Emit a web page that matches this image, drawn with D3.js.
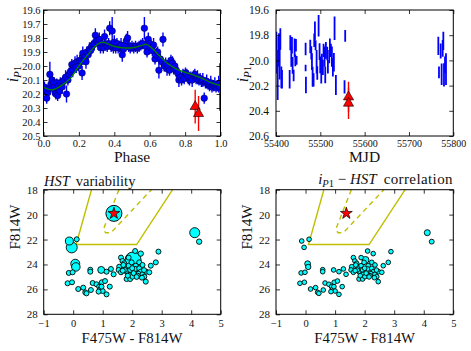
<!DOCTYPE html>
<html><head><meta charset="utf-8">
<script src="https://cdn.jsdelivr.net/npm/d3@7"></script>
<style>body{margin:0;background:#fff} text{font-family:"Liberation Serif","Times New Roman",serif;fill:#111}</style>
</head><body><svg id="c" width="471" height="351"></svg>
<script>
// ---- Light curve (phase-folded) ----
const phase = [0.005,0.012,0.018,0.025,0.03,0.036,0.042,0.048,0.052,0.058,0.064,0.07,0.075,0.08,0.085,0.09,0.095,0.105,0.11,0.118,0.125,0.13,0.138,0.145,0.152,0.16,0.165,0.172,0.178,0.185,0.19,0.198,0.205,0.212,0.218,0.222,0.228,0.235,0.24,0.245,0.252,0.26,0.266,0.272,0.28,0.287,0.293,0.3,0.308,0.315,0.322,0.33,0.338,0.345,0.352,0.36,0.368,0.374,0.382,0.388,0.395,0.4,0.408,0.415,0.422,0.43,0.438,0.445,0.452,0.46,0.468,0.475,0.482,0.49,0.5,0.51,0.52,0.53,0.54,0.55,0.56,0.57,0.578,0.585,0.592,0.6,0.607,0.615,0.622,0.63,0.638,0.645,0.652,0.66,0.668,0.675,0.682,0.69,0.698,0.705,0.712,0.72,0.728,0.735,0.742,0.75,0.758,0.765,0.772,0.78,0.788,0.795,0.802,0.81,0.818,0.825,0.832,0.84,0.848,0.855,0.862,0.87,0.878,0.885,0.892,0.9,0.908,0.915,0.922,0.93,0.938,0.945,0.952,0.96,0.968,0.975,0.982,0.99,0.997];
const magP = [20.15,20.18,20.23,20.19,20.16,20.06,20.13,20.10,20.16,20.12,20.15,20.20,20.12,20.21,20.14,20.18,20.12,20.15,20.11,20.10,20.08,20.20,20.10,20.06,20.04,19.99,20.03,20.00,19.98,20.01,19.97,20.00,19.96,19.97,20.05,19.91,19.95,19.93,19.97,19.90,19.92,19.88,19.89,19.86,19.85,19.84,19.78,19.82,19.83,19.81,19.87,19.84,19.87,19.79,19.85,19.86,19.84,19.73,19.86,19.75,19.87,19.83,19.87,19.84,19.87,19.86,19.85,19.92,19.88,19.85,19.82,19.80,19.86,19.87,19.86,19.87,19.86,19.87,19.86,19.85,19.84,19.73,19.86,19.90,19.81,19.84,19.87,19.89,19.85,19.95,19.92,19.90,20.03,19.95,19.97,19.81,20.00,19.98,20.02,20.00,20.03,19.96,19.98,20.02,20.00,20.03,20.05,20.10,20.08,20.10,20.07,20.09,20.05,20.06,20.08,20.10,20.08,20.10,20.07,20.06,20.09,20.08,20.10,20.09,20.11,20.10,20.23,20.12,20.11,20.13,20.14,20.12,20.15,20.14,20.13,20.15,20.14,20.13,20.15];
const errP = [0.04,0.05,0.04,0.04,0.03,0.09,0.05,0.04,0.05,0.04,0.05,0.04,0.03,0.04,0.04,0.05,0.04,0.05,0.04,0.04,0.05,0.06,0.04,0.05,0.04,0.04,0.05,0.04,0.05,0.04,0.05,0.04,0.04,0.05,0.05,0.05,0.04,0.04,0.05,0.04,0.04,0.05,0.04,0.04,0.04,0.05,0.05,0.04,0.04,0.05,0.04,0.04,0.04,0.05,0.04,0.04,0.04,0.05,0.04,0.10,0.04,0.05,0.04,0.04,0.04,0.04,0.05,0.05,0.04,0.04,0.05,0.05,0.04,0.04,0.04,0.04,0.04,0.04,0.04,0.04,0.04,0.08,0.04,0.04,0.05,0.04,0.04,0.04,0.05,0.04,0.05,0.04,0.06,0.04,0.04,0.05,0.04,0.04,0.05,0.04,0.04,0.04,0.05,0.04,0.04,0.05,0.04,0.05,0.04,0.04,0.05,0.04,0.04,0.04,0.05,0.04,0.04,0.05,0.04,0.04,0.04,0.05,0.04,0.04,0.04,0.05,0.04,0.04,0.05,0.04,0.04,0.05,0.04,0.04,0.05,0.04,0.04,0.06,0.17];
const modelPhase = [0,0.05,0.1,0.15,0.2,0.25,0.3,0.33,0.4,0.45,0.5,0.55,0.58,0.62,0.65,0.7,0.75,0.8,0.85,0.9,0.95,1.0];
const modelMag = [20.152,20.17,20.14,20.09,20.0,19.92,19.85,19.83,19.86,19.87,19.87,19.855,19.845,19.88,19.92,19.98,20.02,20.045,20.065,20.09,20.12,20.14];
const redPhase = [0.857,0.876];
const redMag = [20.29,20.34];
const redErr = [0.12,0.125];
const phaseTicks = [0,0.2,0.4,0.6,0.8,1.0];
const magTicks1 = [19.6,19.7,19.8,19.9,20.0,20.1,20.2,20.3,20.4,20.5];

// ---- Light curve (MJD) ----
const mjd = [55400.8,55402.3,55403.8,55405.3,55406.8,55408.3,55409.8,55412.0,55413.5,55430.8,55432.3,55434.5,55436.0,55437.5,55439.8,55442.0,55443.5,55445.0,55446.5,55466.8,55466.8,55467.5,55477.3,55479.6,55481.1,55482.6,55484.8,55486.3,55487.8,55489.3,55491.6,55493.1,55496.1,55498.3,55499.8,55502.1,55503.6,55505.8,55507.3,55509.6,55511.1,55512.6,55515.6,55517.1,55520.1,55521.6,55523.8,55526.1,55528.3,55530.6,55532.1,55535.1,55556.1,55554.6,55766.2,55767.7,55771.5,55773.7,55776.0,55777.5,55779.0,55781.3,55783.5];
const magM = [19.845,20.01,20.155,19.93,19.89,20.02,19.83,20.135,20.15,20.15,19.86,19.97,19.88,20.04,20.12,19.90,20.0,19.88,20.0,19.91,20.06,20.195,19.89,19.94,20.01,20.13,20.155,19.84,19.765,19.88,20.01,20.10,19.725,19.93,20.035,20.09,20.0,20.055,19.92,19.97,20.115,19.92,19.945,20.05,19.97,19.88,19.92,19.97,20.055,20.015,19.745,20.195,19.805,20.21,19.885,20.095,19.925,20.11,19.905,19.845,20.115,20.035,20.07];
const errM = [0.073,0.093,0.159,0.12,0.106,0.132,0.086,0.086,0.073,0.073,0.06,0.08,0.066,0.066,0.046,0.073,0.046,0.05,0.035,0.05,0.026,0.066,0.053,0.053,0.066,0.08,0.053,0.053,0.073,0.04,0.093,0.053,0.086,0.066,0.066,0.093,0.053,0.06,0.053,0.08,0.066,0.066,0.053,0.053,0.053,0.053,0.053,0.08,0.073,0.073,0.093,0.08,0.046,0.053,0.073,0.046,0.06,0.086,0.066,0.073,0.093,0.066,0.126];
const redMJD = [55563.6,55563.6];
const mjdTicks = [55400,55500,55600,55700,55800];
const magTicks2 = [19.6,19.8,20.0,20.2,20.4,20.6];

// ---- HST colour-magnitude diagram ----
const cmdColor = [-0.13,0.12,-0.05,0.07,0.09,-0.15,-0.02,0.58,0.58,0.95,1.13,1.28,1.37,-0.19,-0.04,0.17,0.34,0.41,0.45,0.60,0.66,0.79,0.88,0.97,1.08,0.92,1.00,0.86,1.13,1.24,0.96,2.03,2.10,2.29,2.89,1.62,1.67,1.73,1.56,1.54,1.62,1.76,1.81,1.88,1.93,1.90,1.95,1.81,1.93,2.01,2.07,2.12,2.10,2.24,2.24,2.29,2.21,2.35,2.41,2.33,2.46,2.35,2.47,2.58,2.63,2.80,1.88,1.70,1.98,4.12,4.27,1.75,2.05,2.18,1.85,2.15,2.40,1.68,2.00];
const cmdMag = [22.12,21.98,22.63,23.94,24.20,24.68,24.63,24.42,24.58,24.44,24.58,24.36,24.79,25.51,25.43,25.97,25.86,26.24,26.32,26.05,25.49,25.59,25.78,25.43,25.33,25.97,26.13,26.18,26.40,25.78,25.78,23.64,22.92,23.13,22.97,23.45,23.72,23.91,24.18,24.44,24.63,24.26,24.58,24.10,24.44,24.84,24.79,25.17,25.17,24.98,24.58,24.10,24.36,23.83,24.31,24.58,24.74,24.79,24.98,25.06,25.38,24.04,24.58,24.63,24.10,23.83,23.45,24.04,23.83,21.45,22.17,24.45,24.70,24.90,24.90,25.00,24.45,24.50,24.30];
const varAmp = [0.133,0.052,0.25,0.168,0.15,0.052,0.052,0.052,0.052,0.10,0.052,0.052,0.052,0.052,0.052,0.052,0.052,0.052,0.052,0.052,0.052,0.052,0.052,0.052,0.052,0.052,0.052,0.052,0.052,0.052,0.052,0.53,0.052,0.06,0.052,0.052,0.052,0.052,0.052,0.052,0.052,0.052,0.052,0.052,0.052,0.052,0.06,0.052,0.052,0.052,0.052,0.052,0.052,0.052,0.052,0.052,0.052,0.052,0.052,0.052,0.052,0.052,0.052,0.052,0.052,0.052,0.052,0.052,0.052,0.21,0.06,0.052,0.052,0.052,0.052,0.052,0.052,0.052,0.052];
const corrAmp = [0.045,0.045,0.045,0.07,0.06,0.045,0.045,0.045,0.045,0.045,0.045,0.045,0.045,0.045,0.045,0.045,0.045,0.045,0.045,0.045,0.045,0.045,0.045,0.045,0.045,0.045,0.045,0.045,0.045,0.045,0.045,0.10,0.045,0.045,0.045,0.045,0.045,0.045,0.045,0.045,0.045,0.045,0.045,0.045,0.045,0.045,0.045,0.045,0.045,0.045,0.045,0.045,0.045,0.045,0.045,0.045,0.045,0.045,0.045,0.045,0.045,0.045,0.045,0.045,0.045,0.045,0.045,0.045,0.045,0.075,0.05,0.045,0.045,0.045,0.045,0.045,0.045,0.045,0.045];
const starColor = 1.38, starMag = 19.9, starVarAmp = 0.53;
const boxColor = [0.62,0.1,2.15,3.37];
const boxMag = [18,22.4,22.4,18];
const dashColor = [1.55,1.02,1.1,1.28,2.65];
const dashMag = [18,21.2,21.45,21.45,18];
const cmdXTicks = [-1,0,1,2,3,4,5];
const cmdYTicks = [18,20,22,24,26,28];

const svg = d3.select("#c");
const FONT = "Liberation Serif";
let clipId = 0;
function panel(x0,x1,y0,y1,xd,yd,o){
  const x = d3.scaleLinear().domain(xd).range([x0,x1]);
  const y = d3.scaleLinear().domain(yd).range([y0,y1]);
  const id = "clip"+(clipId++);
  svg.append("clipPath").attr("id",id).append("rect").attr("x",x0).attr("y",y0).attr("width",x1-x0).attr("height",y1-y0);
  const data = svg.append("g").attr("clip-path",`url(#${id})`);
  const ax = svg.append("g");
  const style = (g,fs)=>{g.attr("font-family",FONT);g.select(".domain").remove();g.selectAll("line").attr("stroke","#000").attr("stroke-width",0.8);g.selectAll("text").attr("font-size",fs).attr("fill","#111").attr("font-family",FONT);};
  ax.append("g").attr("transform",`translate(0,${y1})`).call(d3.axisBottom(x).tickValues(o.xt).tickSize(-4).tickPadding(o.xpad).tickFormat(o.xf)).call(g=>style(g,o.xfs));
  ax.append("g").attr("transform",`translate(0,${y0})`).call(d3.axisTop(x).tickValues(o.xt).tickSize(-4).tickFormat("")).call(g=>style(g,o.xfs));
  ax.append("g").attr("transform",`translate(${x0},0)`).call(d3.axisLeft(y).tickValues(o.yt).tickSize(-4).tickPadding(o.ypad).tickFormat(o.yf)).call(g=>style(g,o.yfs));
  ax.append("g").attr("transform",`translate(${x1},0)`).call(d3.axisRight(y).tickValues(o.yt).tickSize(-4).tickFormat("")).call(g=>style(g,o.yfs));
  ax.append("rect").attr("x",x0).attr("y",y0).attr("width",x1-x0).attr("height",y1-y0).attr("fill","none").attr("stroke","#000").attr("stroke-width",1);
  return {x,y,data,ax};
}
const minus = d=> d<0 ? "\u2212"+Math.abs(d) : String(d);

// Panel 1
const p1 = panel(43.5,220.5,10,136,[0,1],[19.6,20.5],{xt:phaseTicks,yt:magTicks1,xf:d3.format(".1f"),yf:d3.format(".1f"),xfs:10.5,yfs:10.5,xpad:4,ypad:3});
p1.data.selectAll("line.e").data(phase).join("line").attr("x1",(d)=>p1.x(d)).attr("x2",d=>p1.x(d))
  .attr("y1",(d,i)=>p1.y(magP[i]-errP[i])).attr("y2",(d,i)=>p1.y(magP[i]+errP[i])).attr("stroke","#0000ff").attr("stroke-width",1.4);
p1.data.selectAll("circle").data(phase).join("circle").attr("cx",d=>p1.x(d)).attr("cy",(d,i)=>p1.y(magP[i])).attr("r",3.3)
  .attr("fill","#0000ff").attr("stroke","#000040").attr("stroke-width",0.5);
p1.data.append("path").datum(modelPhase.map((d,i)=>[d,modelMag[i]])).attr("d",d3.line().x(d=>p1.x(d[0])).y(d=>p1.y(d[1])).curve(d3.curveCatmullRom))
  .attr("fill","none").attr("stroke","#008000").attr("stroke-width",1.3);
p1.data.selectAll("line.r").data(redPhase).join("line").attr("x1",d=>p1.x(d)).attr("x2",d=>p1.x(d))
  .attr("y1",(d,i)=>p1.y(redMag[i]-redErr[i])).attr("y2",(d,i)=>p1.y(redMag[i]+redErr[i])).attr("stroke","#ff0000").attr("stroke-width",1.4);
p1.data.selectAll("path.t").data(redPhase).join("path").attr("d",d3.symbol(d3.symbolTriangle,45))
  .attr("transform",(d,i)=>`translate(${p1.x(d)},${p1.y(redMag[i])})`).attr("fill","#ff0000").attr("stroke","#000").attr("stroke-width",0.6);

// Panel 2
const p2 = panel(276,453.3,10,136,[55400,55800],[19.6,20.6],{xt:mjdTicks,yt:magTicks2,xf:d3.format("d"),yf:d3.format(".1f"),xfs:10,yfs:11.5,xpad:4,ypad:7});
p2.data.selectAll("line.e").data(mjd).join("line").attr("x1",d=>p2.x(d)).attr("x2",d=>p2.x(d))
  .attr("y1",(d,i)=>p2.y(magM[i]-errM[i])).attr("y2",(d,i)=>p2.y(magM[i]+errM[i])).attr("stroke","#0000ff").attr("stroke-width",1.8);
p2.data.selectAll("line.r").data(redMJD).join("line").attr("x1",d=>p2.x(d)).attr("x2",d=>p2.x(d))
  .attr("y1",(d,i)=>p2.y(redMag[i]-redErr[i])).attr("y2",(d,i)=>p2.y(redMag[i]+redErr[i])).attr("stroke","#ff0000").attr("stroke-width",1.4);
p2.data.selectAll("path.t").data(redMJD).join("path").attr("d",d3.symbol(d3.symbolTriangle,45))
  .attr("transform",(d,i)=>`translate(${p2.x(d)},${p2.y(redMag[i])})`).attr("fill","#ff0000").attr("stroke","#000").attr("stroke-width",0.6);

// CMD panels
const rVar = d3.scaleSqrt().domain([0,0.6]).range([0,8.5]);
function cmd(x0,x1,amps,withStarCircle){
  const p = panel(x0,x1,189.7,314.3,[-1,5],[18,28],{xt:cmdXTicks,yt:cmdYTicks,xf:minus,yf:d3.format("d"),xfs:10.5,yfs:11,xpad:5,ypad:6});
  const line = d3.line().x(d=>p.x(d[0])).y(d=>p.y(d[1]));
  p.data.append("path").datum(boxColor.map((d,i)=>[d,boxMag[i]])).attr("d",line).attr("fill","none").attr("stroke","#bfbf00").attr("stroke-width",1.4);
  p.data.append("path").datum(dashColor.map((d,i)=>[d,dashMag[i]])).attr("d",line).attr("fill","none").attr("stroke","#bfbf00").attr("stroke-width",1.4).attr("stroke-dasharray","5,4");
  const idx = d3.range(cmdColor.length).sort((a,b)=>amps[b]-amps[a]);
  if(withStarCircle){
    p.data.append("circle").attr("cx",p.x(starColor)).attr("cy",p.y(starMag)).attr("r",rVar(starVarAmp)).attr("fill","#00ffff").attr("stroke","#000").attr("stroke-width",1);
  }
  p.data.selectAll("circle.c").data(idx).join("circle").attr("cx",i=>p.x(cmdColor[i])).attr("cy",i=>p.y(cmdMag[i])).attr("r",i=>rVar(amps[i]))
    .attr("fill","#00ffff").attr("stroke","#000").attr("stroke-width",0.9);
  p.data.append("path").attr("d",d3.symbol(d3.symbolStar,44)).attr("transform",`translate(${p.x(starColor)},${p.y(starMag)})`)
    .attr("fill","#ff0000").attr("stroke","#000").attr("stroke-width",0.7);
  return p;
}
cmd(43.7,220.7,varAmp,true);
cmd(276,453.3,corrAmp,false);

// Labels
const T = (x,y,s,fs,anchor)=>svg.append("text").attr("x",x).attr("y",y).attr("font-size",fs).attr("font-family",FONT).attr("text-anchor",anchor||"middle").text(s);
T(132,162,"Phase",15.5);
T(364.6,162,"MJD",15.5);
T(132,343,"F475W - F814W",14.8);
T(364.6,343,"F475W - F814W",14.8);
function ylab(x,y){
  const t = svg.append("text").attr("transform",`translate(${x},${y}) rotate(-90)`).attr("text-anchor","middle").attr("font-size",16).attr("font-family",FONT);
  t.append("tspan").attr("font-style","italic").text("i");
  t.append("tspan").attr("font-style","italic").attr("font-size",11).attr("dy",3).text("P");
  t.append("tspan").attr("font-size",11).text("1");
}
ylab(18,74); ylab(248,74);
svg.append("text").attr("transform","translate(20,227) rotate(-90)").attr("text-anchor","middle").attr("font-size",15).attr("font-family",FONT).text("F814W");
svg.append("text").attr("transform","translate(252,227) rotate(-90)").attr("text-anchor","middle").attr("font-size",15).attr("font-family",FONT).text("F814W");
const t1 = svg.append("text").attr("x",44).attr("y",186).attr("font-size",14.5).attr("font-family",FONT);
t1.append("tspan").attr("font-style","italic").text("HST");
t1.append("tspan").attr("dx",6).text("variability");
const t2 = svg.append("text").attr("x",453).attr("y",184).attr("font-size",15).attr("font-family",FONT).attr("text-anchor","end");
t2.append("tspan").attr("font-style","italic").text("i");
t2.append("tspan").attr("font-style","italic").attr("font-size",10.5).attr("dy",3).text("P");
t2.append("tspan").attr("font-size",10.5).text("1");
t2.append("tspan").attr("dy",-3).text(" \u2212 ");
t2.append("tspan").attr("font-style","italic").text("HST");
t2.append("tspan").attr("dx",7).attr("letter-spacing",0.4).text("correlation");
</script></body></html>
